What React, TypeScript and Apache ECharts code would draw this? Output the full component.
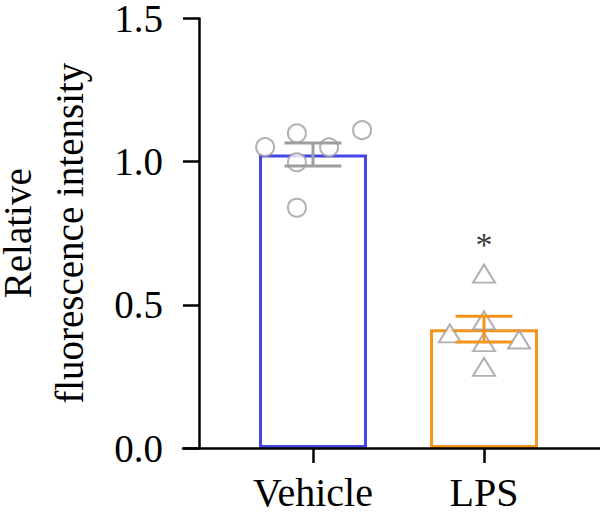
import React, { useEffect, useRef } from "react";
import * as echarts from "echarts";

const categories = ["Vehicle", "LPS"];
const means = [1.025, 0.415];
const sems = [0.04, 0.045];
const vehicleValues = [1.051, 1.099, 0.998, 1.05, 1.11, 0.839];
const vehicleJitter = [-0.28, -0.094, -0.094, 0.094, 0.287, -0.094];
const lpsValues = [0.609, 0.446, 0.4, 0.37, 0.379, 0.283];
const lpsJitter = [0, 0, -0.2, 0, 0.205, 0];
const significance = [{ cat: 1, value: 0.71, text: "*" }];

const BLUE = "#4646e6";
const ORANGE = "#f7941d";
const GRAY = "#9e9e9e";
const FONT = "Liberation Serif";

export default function App() {
  const ref = useRef<HTMLDivElement>(null);
  useEffect(() => {
    document.body.style.margin = "0";
    const chart = echarts.init(ref.current!, null, { renderer: "svg" });
    const barColors = [BLUE, ORANGE];
    const errColors = [GRAY, ORANGE];
    chart.setOption({
      animation: false,
      backgroundColor: "#fff",
      grid: {
        left: 183,
        right: 0,
        top: 18.5,
        bottom: 67,
        containLabel: false,
        outerBoundsMode: "none",
      },
      xAxis: {
        type: "value",
        min: -0.76,
        max: 1.678,
        z: 5,
        splitLine: { show: false },
        axisLine: { show: true, onZero: false, lineStyle: { color: "#000", width: 2.5 } },
        axisTick: {
          show: true,
          length: 15,
          lineStyle: { color: "#000", width: 2.5 },
          customValues: [0, 1],
        },
        axisLabel: {
          show: true,
          customValues: [0, 1],
          formatter: (v: number) => categories[Math.round(v)] ?? "",
          fontFamily: FONT,
          fontSize: 40,
          color: "#000",
          margin: 24,
        },
      },
      yAxis: {
        type: "value",
        min: 0,
        max: 1.5,
        interval: 0.5,
        offset: -16,
        z: 5,
        splitLine: { show: false },
        axisLine: { show: true, onZero: false, lineStyle: { color: "#000", width: 2.5 } },
        axisTick: { show: true, length: 16, lineStyle: { color: "#000", width: 2.5 } },
        axisLabel: {
          fontFamily: FONT,
          fontSize: 39,
          color: "#000",
          margin: 36,
          formatter: (v: number) => v.toFixed(1),
        },
        name: "Relative\nfluorescence intensity",
        nameLocation: "middle",
        nameGap: 104,
        nameTextStyle: {
          fontFamily: FONT,
          fontSize: 39,
          lineHeight: 52,
          color: "#000",
        },
      },
      series: [
        {
          type: "bar",
          barWidth: 108,
          z: 2,
          data: means.map((m, i) => ({
            value: [i, m],
            itemStyle: { color: "#fff", borderColor: barColors[i], borderWidth: 3 },
          })),
        },
        {
          type: "scatter",
          z: 3,
          symbol: "emptyCircle",
          symbolSize: 18,
          itemStyle: { color: GRAY, borderColor: GRAY, borderWidth: 3 },
          data: vehicleValues.map((v, i) => [0 + vehicleJitter[i], v]),
        },
        {
          type: "scatter",
          z: 3,
          symbol: "emptyTriangle",
          symbolSize: [22, 18],
          itemStyle: { color: GRAY, borderColor: GRAY, borderWidth: 3 },
          data: lpsValues.map((v, i) => [1 + lpsJitter[i], v]),
        },
        {
          type: "custom",
          z: 4,
          data: means.map((m, i) => [i, m - sems[i], m + sems[i]]),
          renderItem: (params: any, api: any) => {
            const i = params.dataIndex;
            const x = api.value(0);
            const lo = api.coord([x, api.value(1)]);
            const hi = api.coord([x, api.value(2)]);
            const hw = 28.5;
            const style = { stroke: errColors[i], lineWidth: 3, fill: "none" };
            return {
              type: "group",
              children: [
                { type: "line", shape: { x1: lo[0], y1: lo[1], x2: hi[0], y2: hi[1] }, style },
                { type: "line", shape: { x1: lo[0] - hw, y1: lo[1], x2: lo[0] + hw, y2: lo[1] }, style },
                { type: "line", shape: { x1: hi[0] - hw, y1: hi[1], x2: hi[0] + hw, y2: hi[1] }, style },
              ],
            };
          },
        },
        {
          type: "scatter",
          z: 6,
          symbolSize: 0,
          data: significance.map((s) => ({
            value: [s.cat, s.value],
            label: {
              show: true,
              position: "inside",
              formatter: s.text,
              fontFamily: FONT,
              fontSize: 34,
              color: "#000",
            },
          })),
        },
      ],
    });
    return () => chart.dispose();
  }, []);
  return <div ref={ref} style={{ width: 600, height: 515 }} />;
}
